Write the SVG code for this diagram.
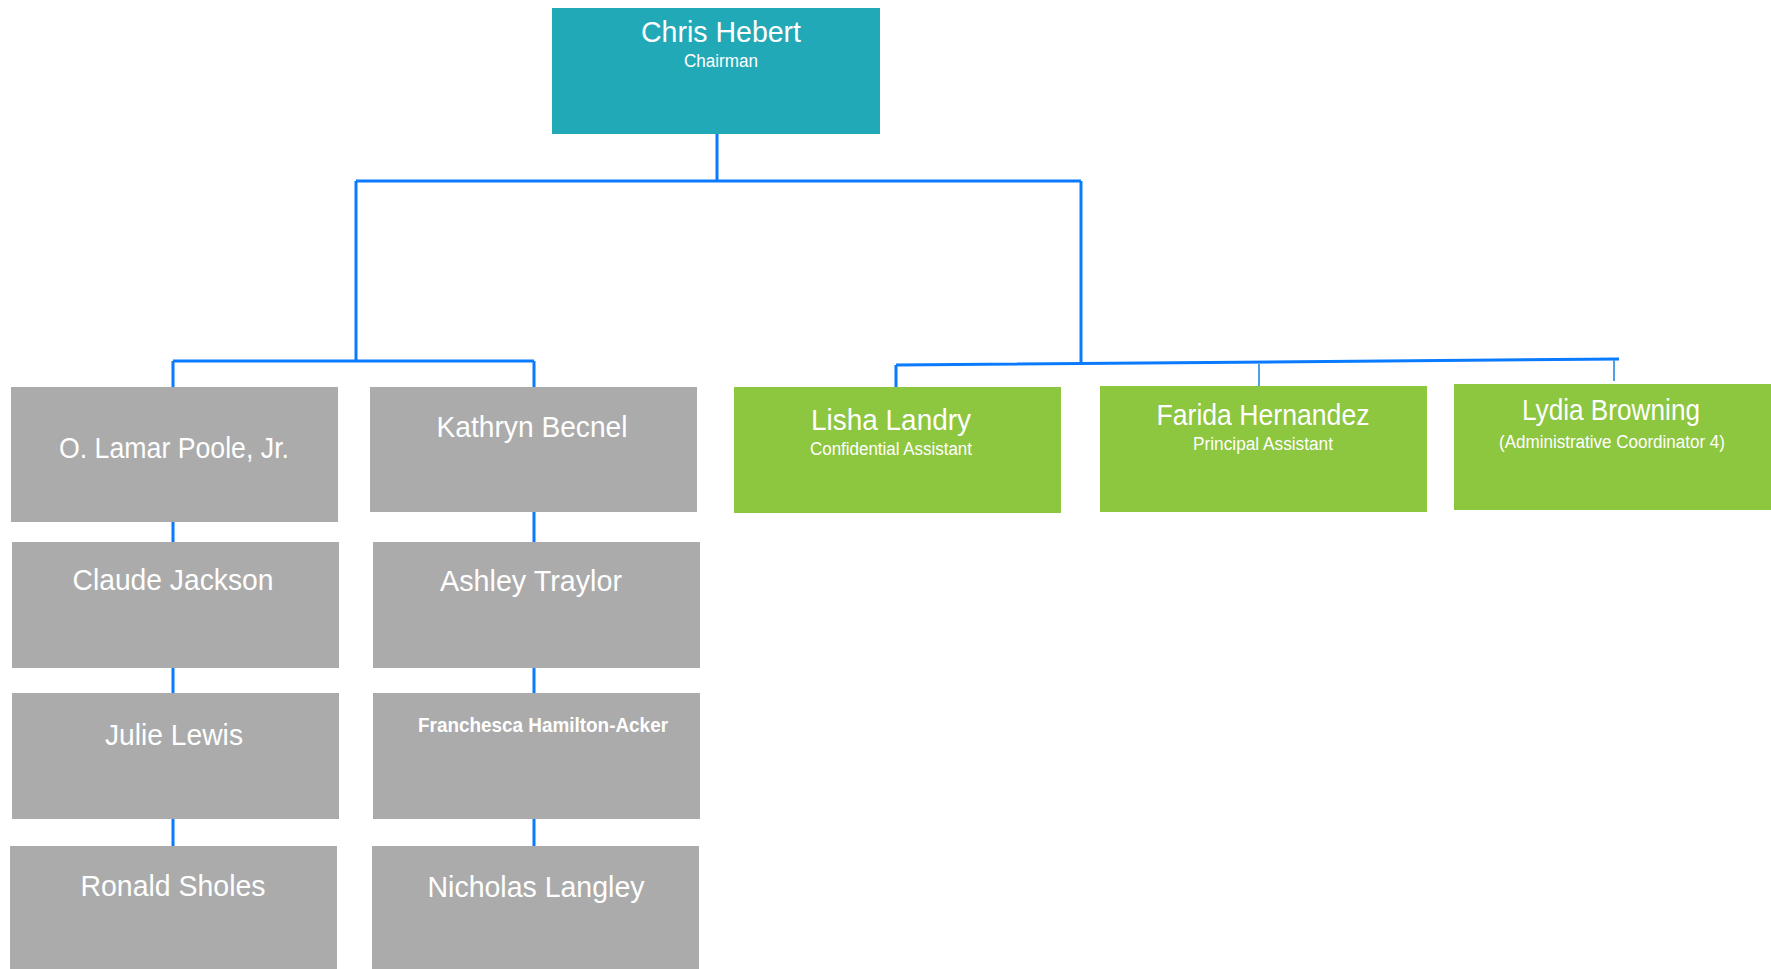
<svg xmlns="http://www.w3.org/2000/svg" width="1771" height="969" viewBox="0 0 1771 969">
<style>
.teal{fill:#22A9B8}
.gray{fill:#ABABAB}
.green{fill:#8DC63F}
.t{font-family:"Liberation Sans",Arial,sans-serif;fill:#FFFFFF;text-anchor:middle}
.name{font-size:30px}
.sub{font-size:18px}
.bold{font-size:20px;font-weight:bold}
.ln{stroke:#0A7BFF;stroke-width:3;fill:none}
.thin{stroke:#4FA0E8;stroke-width:2;fill:none}
</style>
<rect width="1771" height="969" fill="#FFFFFF"/>
<g id="connectors">
<path class="ln" d="M717 133V181M356 181H1081M356 181V361M173 361H534M173 361V387M534 361V387"/>
<path class="ln" d="M173 522V542M173 668V693M173 819V846M534 512V542M534 668V693M534 819V846"/>
<path class="ln" d="M1081 181V362M896 365L1619 359M896 365V387"/>
<path class="thin" d="M1259 364V386M1614 360V381"/>
</g>
<g id="chris"><rect class="teal" x="552" y="8" width="328" height="126"/>
<text class="t name" x="721" y="42" textLength="160" lengthAdjust="spacingAndGlyphs">Chris Hebert</text>
<text class="t" x="721" y="67" font-size="18" textLength="74" lengthAdjust="spacingAndGlyphs">Chairman</text></g>
<g id="lamar"><rect class="gray" x="11" y="387" width="327" height="135"/>
<text class="t name" x="174" y="458" textLength="230" lengthAdjust="spacingAndGlyphs">O. Lamar Poole, Jr.</text></g>
<g id="kathryn"><rect class="gray" x="370" y="387" width="327" height="125"/>
<text class="t name" x="532" y="437" textLength="191" lengthAdjust="spacingAndGlyphs">Kathryn Becnel</text></g>
<g id="claude"><rect class="gray" x="12" y="542" width="327" height="126"/>
<text class="t name" x="173" y="590" textLength="201" lengthAdjust="spacingAndGlyphs">Claude Jackson</text></g>
<g id="ashley"><rect class="gray" x="373" y="542" width="327" height="126"/>
<text class="t name" x="531" y="591" textLength="182" lengthAdjust="spacingAndGlyphs">Ashley Traylor</text></g>
<g id="julie"><rect class="gray" x="12" y="693" width="327" height="126"/>
<text class="t name" x="174" y="745" textLength="138" lengthAdjust="spacingAndGlyphs">Julie Lewis</text></g>
<g id="franchesca"><rect class="gray" x="373" y="693" width="327" height="126"/>
<text class="t bold" x="543" y="732" textLength="250" lengthAdjust="spacingAndGlyphs">Franchesca Hamilton-Acker</text></g>
<g id="ronald"><rect class="gray" x="10" y="846" width="327" height="123"/>
<text class="t name" x="173" y="896" textLength="185" lengthAdjust="spacingAndGlyphs">Ronald Sholes</text></g>
<g id="nicholas"><rect class="gray" x="372" y="846" width="327" height="123"/>
<text class="t name" x="536" y="897" textLength="217" lengthAdjust="spacingAndGlyphs">Nicholas Langley</text></g>
<g id="lisha"><rect class="green" x="734" y="387" width="327" height="126"/>
<text class="t name" x="891" y="430" textLength="160" lengthAdjust="spacingAndGlyphs">Lisha Landry</text>
<text class="t sub" x="891" y="455" textLength="162" lengthAdjust="spacingAndGlyphs">Confidential Assistant</text></g>
<g id="farida"><rect class="green" x="1100" y="386" width="327" height="126"/>
<text class="t name" x="1263" y="425" textLength="213" lengthAdjust="spacingAndGlyphs">Farida Hernandez</text>
<text class="t sub" x="1263" y="450" textLength="140" lengthAdjust="spacingAndGlyphs">Principal Assistant</text></g>
<g id="lydia"><rect class="green" x="1454" y="384" width="317" height="126"/>
<text class="t name" x="1611" y="420" textLength="178" lengthAdjust="spacingAndGlyphs">Lydia Browning</text>
<text class="t sub" x="1612" y="448" textLength="226" lengthAdjust="spacingAndGlyphs">(Administrative Coordinator 4)</text></g>
</svg>
